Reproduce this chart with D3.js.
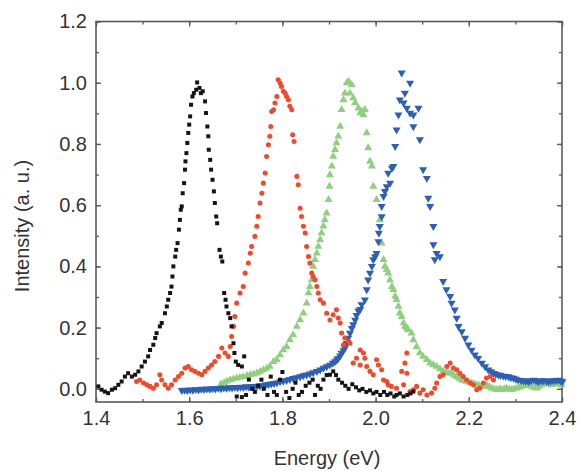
<!DOCTYPE html>
<html><head><meta charset="utf-8">
<script src="https://cdn.jsdelivr.net/npm/d3@7"></script>
<style>body{margin:0;background:#fff;}svg{display:block;}text{font-family:"Liberation Sans",Arial,Helvetica,sans-serif;}</style>
</head><body><svg id="c" width="579" height="471"></svg>
<script>
const xTicks = [1.4, 1.6, 1.8, 2.0, 2.2, 2.4];
const yTicks = [0.0, 0.2, 0.4, 0.6, 0.8, 1.0, 1.2];
const xTitle = "Energy (eV)";
const yTitle = "Intensity (a. u.)";

const blackData = [[1.405,0.008],[1.412,-0.003],[1.419,-0.009],[1.426,-0.014],[1.434,-0.003],[1.441,0.002],[1.448,0.013],[1.455,0.024],[1.462,0.040],[1.469,0.051],[1.477,0.040],[1.484,0.046],[1.491,0.057],[1.498,0.073],[1.505,0.089],[1.512,0.106],[1.516,0.127],[1.523,0.144],[1.527,0.166],[1.530,0.182],[1.537,0.204],[1.541,0.215],[1.548,0.247],[1.552,0.269],[1.555,0.291],[1.559,0.313],[1.562,0.334],[1.564,0.367],[1.566,0.400],[1.570,0.432],[1.572,0.454],[1.575,0.476],[1.578,0.520],[1.580,0.552],[1.582,0.585],[1.584,0.596],[1.586,0.639],[1.589,0.672],[1.591,0.716],[1.592,0.743],[1.594,0.770],[1.596,0.803],[1.598,0.836],[1.600,0.863],[1.602,0.890],[1.604,0.928],[1.607,0.955],[1.610,0.966],[1.615,0.977],[1.617,1.001],[1.622,0.983],[1.625,0.966],[1.629,0.972],[1.634,0.939],[1.636,0.901],[1.639,0.857],[1.641,0.825],[1.642,0.781],[1.645,0.748],[1.647,0.716],[1.650,0.683],[1.653,0.645],[1.655,0.607],[1.658,0.563],[1.660,0.541],[1.665,0.454],[1.668,0.432],[1.671,0.416],[1.675,0.313],[1.678,0.291],[1.680,0.269],[1.684,0.247],[1.688,0.231],[1.691,0.204],[1.695,0.149],[1.697,0.117],[1.700,0.089],[1.705,0.078],[1.713,0.073],[1.718,0.106],[1.702,-0.025],[1.713,-0.027],[1.722,-0.020],[1.728,0.030],[1.735,0.000],[1.741,-0.010],[1.748,0.010],[1.755,0.030],[1.760,0.000],[1.768,-0.020],[1.775,0.040],[1.782,-0.010],[1.788,-0.020],[1.795,0.030],[1.800,0.055],[1.808,-0.010],[1.815,-0.030],[1.822,0.000],[1.828,0.020],[1.835,-0.020],[1.842,-0.010],[1.850,0.010],[1.858,0.020],[1.865,0.030],[1.870,-0.020],[1.876,0.010],[1.882,0.000],[1.888,0.030],[1.895,0.045],[1.902,0.046],[1.909,0.057],[1.915,0.045],[1.920,0.030],[1.928,0.020],[1.935,0.010],[1.942,0.000],[1.950,0.015],[1.958,0.005],[1.965,-0.005],[1.972,0.000],[1.980,-0.010],[1.988,-0.005],[1.995,-0.015],[2.002,-0.010],[2.010,-0.020],[2.018,-0.010],[2.025,-0.020],[2.032,-0.015],[2.040,-0.025],[2.045,-0.020],[2.052,-0.015],[2.060,-0.025],[2.068,-0.020],[2.075,-0.015],[2.081,-0.009]];

const redData = [[1.487,0.024],[1.494,0.029],[1.502,0.019],[1.509,0.013],[1.516,0.008],[1.523,0.002],[1.530,0.013],[1.537,0.046],[1.541,0.029],[1.548,0.013],[1.555,0.002],[1.562,0.013],[1.570,0.029],[1.577,0.040],[1.584,0.051],[1.591,0.068],[1.598,0.073],[1.605,0.062],[1.612,0.057],[1.620,0.051],[1.627,0.046],[1.634,0.057],[1.641,0.068],[1.648,0.078],[1.655,0.089],[1.663,0.106],[1.670,0.133],[1.677,0.117],[1.684,0.106],[1.688,0.138],[1.691,0.171],[1.695,0.204],[1.698,0.236],[1.702,0.280],[1.709,0.313],[1.716,0.334],[1.720,0.378],[1.727,0.411],[1.731,0.443],[1.734,0.465],[1.741,0.498],[1.745,0.531],[1.748,0.563],[1.752,0.607],[1.756,0.639],[1.759,0.672],[1.763,0.705],[1.766,0.759],[1.770,0.797],[1.773,0.825],[1.775,0.857],[1.777,0.906],[1.781,0.912],[1.784,0.934],[1.788,0.955],[1.791,1.010],[1.795,0.999],[1.798,0.988],[1.802,0.972],[1.806,0.966],[1.809,0.955],[1.813,0.944],[1.816,0.923],[1.820,0.912],[1.822,0.830],[1.825,0.808],[1.831,0.694],[1.834,0.667],[1.838,0.590],[1.841,0.563],[1.845,0.531],[1.849,0.509],[1.852,0.465],[1.856,0.432],[1.859,0.411],[1.863,0.378],[1.866,0.367],[1.870,0.356],[1.874,0.334],[1.877,0.313],[1.881,0.291],[1.888,0.280],[1.895,0.247],[1.902,0.225],[1.909,0.242],[1.916,0.258],[1.920,0.231],[1.924,0.215],[1.927,0.182],[1.931,0.144],[1.934,0.166],[1.942,0.155],[1.945,0.149],[1.952,0.084],[1.959,0.100],[1.967,0.127],[1.967,0.078],[1.974,0.117],[1.977,0.100],[1.981,0.073],[1.988,0.057],[1.995,0.046],[2.002,0.095],[2.006,0.078],[2.013,0.062],[2.017,0.029],[2.024,0.024],[2.027,0.013],[2.034,0.008],[2.045,0.002],[2.056,0.057],[2.060,0.013],[2.063,0.084],[2.067,0.117],[2.067,0.051],[2.074,-0.009],[2.081,-0.003],[2.088,0.008],[2.095,-0.014],[2.102,-0.003],[2.110,-0.020],[2.120,-0.014],[2.127,0.002],[2.131,0.019],[2.138,0.040],[2.145,0.046],[2.153,0.073],[2.160,0.084],[2.167,0.068],[2.174,0.062],[2.181,0.051],[2.188,0.040],[2.195,0.029],[2.203,0.019],[2.210,0.013],[2.217,-0.003],[2.224,0.002],[2.231,0.019],[2.238,0.035],[2.246,0.040],[2.253,0.029]];

const greenData = [[1.668,0.015],[1.675,0.020],[1.681,0.025],[1.688,0.029],[1.695,0.032],[1.702,0.035],[1.709,0.037],[1.716,0.040],[1.724,0.043],[1.731,0.046],[1.738,0.048],[1.745,0.051],[1.752,0.056],[1.759,0.062],[1.766,0.067],[1.773,0.073],[1.781,0.089],[1.788,0.095],[1.795,0.111],[1.802,0.127],[1.809,0.138],[1.816,0.160],[1.823,0.176],[1.831,0.204],[1.838,0.225],[1.845,0.247],[1.852,0.280],[1.856,0.313],[1.859,0.334],[1.863,0.356],[1.866,0.400],[1.870,0.422],[1.874,0.443],[1.877,0.465],[1.881,0.487],[1.884,0.509],[1.888,0.531],[1.891,0.552],[1.895,0.574],[1.899,0.618],[1.901,0.661],[1.902,0.699],[1.906,0.727],[1.909,0.759],[1.913,0.781],[1.916,0.803],[1.920,0.825],[1.924,0.857],[1.927,0.912],[1.931,0.944],[1.934,0.966],[1.938,0.999],[1.942,1.004],[1.945,0.966],[1.949,0.993],[1.952,0.950],[1.956,0.934],[1.963,0.917],[1.967,0.901],[1.970,0.906],[1.974,0.895],[1.977,0.912],[1.981,0.836],[1.984,0.787],[1.988,0.743],[1.992,0.727],[1.995,0.661],[2.002,0.618],[2.009,0.552],[2.013,0.476],[2.017,0.422],[2.020,0.400],[2.024,0.389],[2.027,0.378],[2.031,0.356],[2.035,0.334],[2.038,0.324],[2.042,0.302],[2.045,0.291],[2.049,0.269],[2.052,0.247],[2.056,0.236],[2.060,0.215],[2.063,0.204],[2.067,0.198],[2.070,0.193],[2.077,0.182],[2.081,0.160],[2.088,0.138],[2.095,0.117],[2.102,0.106],[2.110,0.095],[2.117,0.084],[2.124,0.078],[2.131,0.073],[2.138,0.065],[2.145,0.058],[2.152,0.054],[2.158,0.051],[2.163,0.051],[2.168,0.045],[2.174,0.040],[2.180,0.034],[2.185,0.029],[2.190,0.027],[2.195,0.024],[2.200,0.022],[2.206,0.019],[2.211,0.016],[2.217,0.013],[2.222,0.011],[2.228,0.008],[2.233,0.010],[2.238,0.013],[2.244,0.006],[2.249,0.002],[2.255,0.000],[2.260,-0.003],[2.266,0.000],[2.271,-0.003],[2.276,0.000],[2.281,0.002],[2.287,-0.001],[2.292,-0.003],[2.297,0.000],[2.303,0.002],[2.308,0.005],[2.313,0.008],[2.319,0.010],[2.324,0.013],[2.330,0.011],[2.335,0.008],[2.340,0.005],[2.346,0.002],[2.351,0.008],[2.356,0.013],[2.362,0.016],[2.367,0.019],[2.372,0.016],[2.378,0.013],[2.383,0.016],[2.389,0.019],[2.394,0.016],[2.399,0.013]];

const blueData = [[1.584,-0.005],[1.590,-0.004],[1.596,-0.005],[1.602,-0.003],[1.608,-0.004],[1.614,-0.002],[1.620,-0.003],[1.626,-0.001],[1.632,-0.002],[1.638,0.000],[1.644,-0.001],[1.650,0.001],[1.656,0.000],[1.662,0.002],[1.668,0.001],[1.674,0.003],[1.680,0.002],[1.686,0.004],[1.692,0.003],[1.698,0.005],[1.704,0.004],[1.710,0.006],[1.716,0.005],[1.722,0.007],[1.728,0.006],[1.734,0.008],[1.740,0.007],[1.746,0.009],[1.752,0.010],[1.758,0.011],[1.764,0.013],[1.770,0.015],[1.776,0.016],[1.782,0.018],[1.788,0.020],[1.795,0.024],[1.802,0.025],[1.809,0.028],[1.816,0.031],[1.823,0.034],[1.830,0.037],[1.838,0.040],[1.845,0.043],[1.852,0.046],[1.859,0.049],[1.866,0.053],[1.874,0.057],[1.881,0.062],[1.888,0.068],[1.895,0.073],[1.902,0.078],[1.908,0.084],[1.913,0.089],[1.917,0.095],[1.920,0.100],[1.924,0.108],[1.927,0.117],[1.931,0.125],[1.934,0.133],[1.938,0.149],[1.941,0.166],[1.945,0.182],[1.949,0.198],[1.952,0.210],[1.956,0.225],[1.959,0.240],[1.963,0.255],[1.967,0.260],[1.970,0.275],[1.977,0.291],[1.981,0.324],[1.984,0.356],[1.988,0.378],[1.992,0.400],[1.995,0.422],[1.999,0.432],[2.002,0.443],[2.006,0.481],[2.007,0.509],[2.009,0.531],[2.013,0.563],[2.013,0.596],[2.017,0.629],[2.020,0.645],[2.024,0.661],[2.027,0.705],[2.031,0.672],[2.035,0.721],[2.038,0.727],[2.042,0.792],[2.045,0.846],[2.049,0.895],[2.052,0.944],[2.056,1.032],[2.060,0.934],[2.063,0.966],[2.067,0.917],[2.074,0.999],[2.074,0.901],[2.081,0.895],[2.081,0.857],[2.092,0.917],[2.095,0.814],[2.102,0.716],[2.110,0.688],[2.113,0.623],[2.117,0.596],[2.124,0.531],[2.124,0.471],[2.127,0.422],[2.131,0.443],[2.138,0.432],[2.145,0.351],[2.152,0.324],[2.160,0.302],[2.163,0.280],[2.170,0.258],[2.174,0.231],[2.178,0.204],[2.185,0.187],[2.192,0.166],[2.199,0.144],[2.206,0.127],[2.213,0.111],[2.220,0.100],[2.228,0.084],[2.235,0.073],[2.242,0.062],[2.248,0.056],[2.253,0.051],[2.258,0.048],[2.263,0.046],[2.268,0.044],[2.274,0.042],[2.279,0.041],[2.285,0.040],[2.290,0.037],[2.296,0.035],[2.301,0.032],[2.306,0.029],[2.312,0.028],[2.317,0.027],[2.322,0.025],[2.328,0.024],[2.333,0.027],[2.339,0.029],[2.344,0.026],[2.349,0.024],[2.355,0.026],[2.360,0.027],[2.366,0.025],[2.371,0.024],[2.376,0.026],[2.381,0.027],[2.387,0.028],[2.392,0.029],[2.397,0.026],[2.401,0.024]];

const seriesColors = {black:"#141414", red:"#ef4a2c", green:"#8fcf80", blue:"#2d5fb2"};

const svg = d3.select("#c");
const m = {left:96, right:562, top:21.5, bottom:402};
const x = d3.scaleLinear().domain([1.4, 2.4]).range([m.left, m.right]);
const y = d3.scaleLinear().domain([-0.043, 1.2]).range([m.bottom, m.top]);
const axisColor = "#5a5a5a";

function styleAxis(g){
  g.select(".domain").remove();
  g.selectAll("line").attr("stroke", axisColor).attr("stroke-width", 1.3);
  g.selectAll("text").attr("fill", "#333").style("font-size", "20px");
}
const xMinor = d3.range(14, 25).map(d => d/10);
const yMinor = d3.range(0, 13).map(d => d/10);

svg.append("g").attr("transform", `translate(0,${m.bottom})`).call(d3.axisBottom(x).tickValues(xMinor).tickSize(-3).tickFormat("")).call(styleAxis);
svg.append("g").attr("transform", `translate(0,${m.top})`).call(d3.axisTop(x).tickValues(xMinor).tickSize(-3).tickFormat("")).call(styleAxis);
svg.append("g").attr("transform", `translate(${m.left},0)`).call(d3.axisLeft(y).tickValues(yMinor).tickSize(-3).tickFormat("")).call(styleAxis);
svg.append("g").attr("transform", `translate(${m.right},0)`).call(d3.axisRight(y).tickValues(yMinor).tickSize(-3).tickFormat("")).call(styleAxis);
svg.append("g").attr("transform", `translate(0,${m.bottom})`).call(d3.axisBottom(x).tickValues(xTicks).tickSize(-5).tickPadding(9).tickFormat(d3.format(".1f"))).call(styleAxis);
svg.append("g").attr("transform", `translate(0,${m.top})`).call(d3.axisTop(x).tickValues(xTicks).tickSize(-5).tickFormat("")).call(styleAxis);
svg.append("g").attr("transform", `translate(${m.left},0)`).call(d3.axisLeft(y).tickValues(yTicks).tickSize(-5).tickPadding(9).tickFormat(d3.format(".1f"))).call(styleAxis);
svg.append("g").attr("transform", `translate(${m.right},0)`).call(d3.axisRight(y).tickValues(yTicks).tickSize(-5).tickFormat("")).call(styleAxis);

svg.append("rect").attr("x", m.left).attr("y", m.top).attr("width", m.right-m.left).attr("height", m.bottom-m.top)
  .attr("fill","none").attr("stroke", axisColor).attr("stroke-width", 1.6);

svg.append("text").attr("x", (m.left+m.right)/2 - 2).attr("y", 465).attr("text-anchor","middle")
  .attr("fill","#333").style("font-size","20px").text(xTitle);
svg.append("text").attr("transform", `translate(29,226) rotate(-90)`).attr("text-anchor","middle")
  .attr("fill","#333").style("font-size","20px").text(yTitle);

const plot = svg.append("g");
function drawSeries(data, type, size, color, rot){
  const sym = d3.symbol().type(type).size(size);
  plot.append("g").selectAll("path").data(data).join("path")
    .attr("d", sym)
    .attr("transform", d => `translate(${x(d[0])},${y(d[1])})` + (rot ? " rotate(180)" : ""))
    .attr("fill", color);
}
drawSeries(greenData, d3.symbolTriangle, 28, seriesColors.green, false);
drawSeries(blueData, d3.symbolTriangle, 28, seriesColors.blue, true);
drawSeries(redData, d3.symbolCircle, 20, seriesColors.red, false);
drawSeries(blackData, d3.symbolSquare, 16, seriesColors.black, false);
</script></body></html>
